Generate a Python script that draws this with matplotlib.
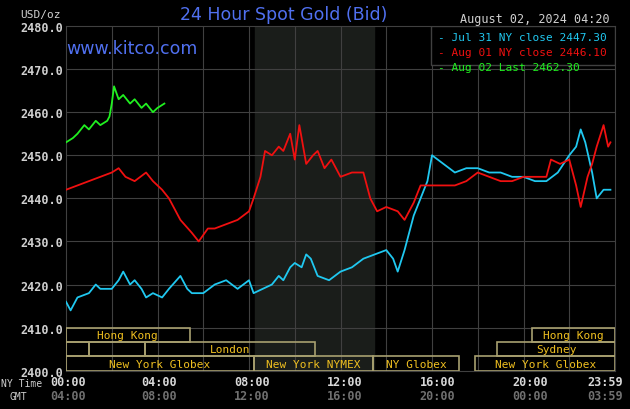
import matplotlib.pyplot as plt
from matplotlib.patches import Rectangle

# NY hours, price
jul31_t = [0, 0.2, 0.5, 1, 1.3, 1.5, 2, 2.3, 2.5, 2.8, 3, 3.3, 3.5, 3.8, 4.2, 4.5, 5, 5.3, 5.5, 6, 6.5, 7, 7.5,
           8, 8.2, 8.6, 9, 9.3, 9.5, 9.8, 10, 10.3, 10.5, 10.7, 11, 11.5, 12, 12.5, 13, 13.5, 14, 14.3, 14.5,
           14.8, 15.2, 15.5, 15.8, 16, 16.5, 17, 17.5, 18, 18.5, 19, 19.5, 20, 20.5, 21, 21.5, 22, 22.3,
           22.5, 22.7, 23, 23.2, 23.5, 23.8]
jul31_v = [2416, 2414, 2417, 2418, 2420, 2419, 2419, 2421, 2423, 2420, 2421, 2419, 2417, 2418, 2417, 2419,
           2422, 2419, 2418, 2418, 2420, 2421, 2419, 2421, 2418, 2419, 2420, 2422, 2421, 2424, 2425, 2424,
           2427, 2426, 2422, 2421, 2423, 2424, 2426, 2427, 2428, 2426, 2423, 2428, 2436, 2440, 2444, 2450,
           2448, 2446, 2447, 2447, 2446, 2446, 2445, 2445, 2444, 2444, 2446, 2450, 2452, 2456, 2453, 2446,
           2440, 2442, 2442]

aug01_t = [0, 0.5, 1, 1.5, 2, 2.3, 2.6, 3, 3.5, 3.8, 4.2, 4.5, 5, 5.5, 5.8, 6.2, 6.5, 7, 7.5, 8, 8.2, 8.5,
           8.7, 9, 9.3, 9.5, 9.8, 10, 10.2, 10.5, 10.8, 11, 11.3, 11.6, 12, 12.5, 13, 13.3, 13.6, 14, 14.5,
           14.8, 15.2, 15.5, 16, 16.5, 17, 17.5, 18, 18.5, 19, 19.5, 20, 20.5, 21, 21.2, 21.6, 22, 22.3,
           22.5, 22.8, 23, 23.2, 23.5, 23.7, 23.8]
aug01_v = [2442, 2443, 2444, 2445, 2446, 2447, 2445, 2444, 2446, 2444, 2442, 2440, 2435, 2432, 2430, 2433,
           2433, 2434, 2435, 2437, 2440, 2445, 2451, 2450, 2452, 2451, 2455, 2449, 2457, 2448, 2450, 2451,
           2447, 2449, 2445, 2446, 2446, 2440, 2437, 2438, 2437, 2435, 2439, 2443, 2443, 2443, 2443, 2444,
           2446, 2445, 2444, 2444, 2445, 2445, 2445, 2449, 2448, 2449, 2443, 2438, 2445, 2448, 2452, 2457,
           2452, 2453]

aug02_t = [0, 0.3, 0.5, 0.8, 1, 1.3, 1.5, 1.8, 1.9, 2.0, 2.1, 2.3, 2.5, 2.8, 3, 3.3, 3.5, 3.8, 4, 4.3]
aug02_v = [2453, 2454, 2455, 2457, 2456, 2458, 2457, 2458, 2459, 2462, 2466, 2463, 2464, 2462, 2463, 2461,
           2462, 2460, 2461, 2462]

# (row, start hour, end hour, label)
sessions = [
    (2, 0, 5.4, "Hong Kong"), (2, 20.35, 24, "Hong Kong"),
    (1, 0, 1.0, ""), (1, 1.0, 3.45, ""), (1, 3.45, 10.9, "London"), (1, 18.85, 24, "Sydney"),
    (0, 0, 8.2, "New York Globex"), (0, 8.2, 13.4, "New York NYMEX"), (0, 13.4, 17.2, "NY Globex"),
    (0, 17.9, 24, "New York Globex"),
]

xtick_ny = ["00:00", "04:00", "08:00", "12:00", "16:00", "20:00", "23:59"]
xtick_gmt = ["04:00", "08:00", "12:00", "16:00", "20:00", "00:00", "03:59"]

mono = "DejaVu Sans Mono"
fig = plt.figure(figsize=(6.3, 4.1), dpi=100, facecolor="black")
ax = fig.add_axes([0.1048, 0.0934, 0.8714, 0.8407], facecolor="black")
ax.set_xlim(0, 24)
ax.set_ylim(2400, 2480)
ax.axvspan(8.25, 13.45, color="#1a1d1a", zorder=0)
for h in range(2, 24, 2):
    ax.axvline(h, color="#404040", lw=0.8, zorder=1)
for v in range(2410, 2480, 10):
    ax.axhline(v, color="#404040", lw=0.8, zorder=1)
for s in ax.spines.values():
    s.set_color("#404040")
ax.set_xticks([])
ax.set_yticks(range(2400, 2481, 10))
ax.set_yticklabels([f"{v:.1f}" for v in range(2400, 2481, 10)], family=mono,
                   fontsize=8.5, color="#d0d0d0", fontweight="bold")
ax.tick_params(axis="y", length=0, pad=2)

rh = 10 / 3
for row, a, b, lab in sessions:
    y0 = 2400 + row * rh
    ax.add_patch(Rectangle((a, y0), b - a, rh, facecolor="none", edgecolor="#a8a070", lw=1.2, zorder=3))
    if lab:
        ax.text((a + b) / 2, y0 + rh / 2, lab, ha="center", va="center", color="#f0c020",
                family=mono, fontsize=8, zorder=4)

ax.plot(jul31_t, jul31_v, color="#20c8f0", lw=1.3, zorder=5)
ax.plot(aug01_t, aug01_v, color="#f01010", lw=1.3, zorder=5)
ax.plot(aug02_t, aug02_v, color="#20f020", lw=1.3, zorder=5)

# legend box
ax.add_patch(Rectangle((15.95, 2471.0), 8.05, 9.0, facecolor="black", edgecolor="#404040", lw=1, zorder=6))
leg = [("Jul 31 NY close 2447.30", "#20c8f0"), ("Aug 01 NY close 2446.10", "#f01010"),
       ("Aug 02 Last 2462.30", "#20f020")]
for i, (txt, c) in enumerate(leg):
    fig.text(438 / 630, 1 - (38 + i * 15) / 410, "- " + txt, color=c, family=mono, fontsize=8,
             va="center", ha="left")

fig.text(0.45, 1 - 15 / 410, "24 Hour Spot Gold (Bid)", color="#5070f0", fontsize=12.5,
         ha="center", va="center")
fig.text(66 / 630, 1 - 49 / 410, "www.kitco.com", color="#5070f0", fontsize=12.5, ha="left", va="center")
fig.text(610 / 630, 1 - 19 / 410, "August 02, 2024 04:20", color="#d0d0d0", family=mono, fontsize=8.5,
         ha="right", va="center")
fig.text(20 / 630, 1 - 15 / 410, "USD/oz", color="#d0d0d0", family=mono, fontsize=8, ha="left", va="center")

fig.text(1 / 630, 1 - 384 / 410, "NY Time", color="#d0d0d0", family=mono, fontsize=7, va="center")
fig.text(10 / 630, 1 - 397 / 410, "GMT", color="#d0d0d0", family=mono, fontsize=7, va="center")
for i, (a, b) in enumerate(zip(xtick_ny, xtick_gmt)):
    x = 66 + i * 4 * 23.2 if i < 6 else 623
    ha = "center" if i < 6 else "right"
    if i == 0:
        x = 50
        ha = "left"
    fig.text(x / 630, 1 - 383 / 410, a, color="#d8d8d8", family=mono, fontsize=8.5, fontweight="bold",
             ha=ha, va="center")
    fig.text(x / 630, 1 - 397 / 410, b, color="#707070", family=mono, fontsize=8.5, fontweight="bold",
             ha=ha, va="center")

fig.savefig("out.png", dpi=100, facecolor="black")
